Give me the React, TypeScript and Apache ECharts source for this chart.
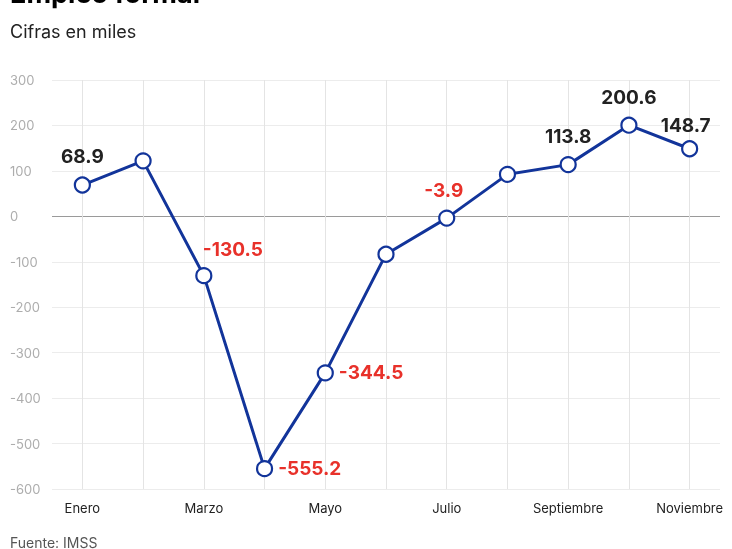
import React, { useEffect, useRef } from "react";
import * as echarts from "echarts";

const months = ["Enero", "Febrero", "Marzo", "Abril", "Mayo", "Junio", "Julio", "Agosto", "Septiembre", "Octubre", "Noviembre"];
const values = [68.9, 122.1, -130.5, -555.2, -344.5, -83.3, -3.9, 92.4, 113.8, 200.6, 148.7];
const shownLabels = [true, false, true, true, true, false, true, false, true, true, true];
const yTicks = [-600, -500, -400, -300, -200, -100, 0, 100, 200, 300];

const FONT = "Inter, 'Noto Sans', sans-serif";

export default function App() {
  const ref = useRef<HTMLDivElement>(null);
  useEffect(() => {
    if (!ref.current) return;
    const chart = echarts.init(ref.current, undefined, { renderer: "svg" });

    const labelFor = (i: number, v: number) => {
      const color = v < 0 ? "#e8312a" : "#222222";
      const base: any = {
        show: shownLabels[i],
        color,
        fontSize: 19,
        fontWeight: "bold",
        fontFamily: FONT,
        formatter: (p: any) => String(p.value),
      };
      if (v <= -300) {
        return { ...base, position: "right", distance: 5 };
      }
      if (i === 2) {
        return { ...base, position: "top", distance: 10, offset: [29, 2] };
      }
      if (i === 10) {
        return { ...base, position: "top", distance: 10, offset: [-4, 5] };
      }
      if (i === 6) {
        return { ...base, position: "top", distance: 10, offset: [-3, 0] };
      }
      return { ...base, position: "top", distance: 10 };
    };

    const splitColors = yTicks.map((t) => (t === 0 ? "#9a9a9a" : "#ececec"));

    chart.setOption({
      animation: false,
      textStyle: { fontFamily: FONT },
      grid: { left: 52, right: 12, top: 80, bottom: 60 },
      graphic: [
        {
          type: "text",
          left: 10,
          top: -20,
          style: { text: "Empleo formal", font: `bold 27px ${FONT}`, fill: "#000" },
        },
        {
          type: "text",
          left: 10,
          top: 22,
          style: { text: "Cifras en miles", font: `18px ${FONT}`, fill: "#222" },
        },
        {
          type: "text",
          left: 10,
          top: 535,
          style: { text: "Fuente: IMSS", font: `14px ${FONT}`, fill: "#555" },
        },
      ],
      xAxis: {
        type: "category",
        data: months,
        boundaryGap: true,
        axisLine: { show: false },
        axisTick: { show: true, alignWithLabel: true, interval: 0, length: 5, lineStyle: { color: "#e0e0e0" } },
        axisLabel: { interval: 1, margin: 12, color: "#222", fontSize: 13, fontFamily: FONT },
        splitLine: { show: true, alignWithLabel: true, interval: 0, lineStyle: { color: "#e4e4e4", width: 1 } },
      },
      yAxis: {
        type: "value",
        min: -600,
        max: 300,
        interval: 100,
        axisLine: { show: false },
        axisTick: { show: false },
        axisLabel: { align: "left", margin: 42, color: "#adadad", fontSize: 13, fontFamily: FONT },
        splitLine: { show: true, lineStyle: { color: splitColors, width: 1 } },
      },
      series: [
        {
          type: "line",
          data: values.map((v, i) => ({ value: v, label: labelFor(i, v) })),
          symbol: "circle",
          symbolSize: 15,
          showAllSymbol: true,
          lineStyle: { color: "#12349a", width: 3 },
          itemStyle: { color: "#ffffff", borderColor: "#12349a", borderWidth: 2.2 },
          z: 5,
        },
      ],
    });
    return () => chart.dispose();
  }, []);
  return <div ref={ref} style={{ position: "fixed", left: 0, top: 0, width: 732, height: 549 }} />;
}
